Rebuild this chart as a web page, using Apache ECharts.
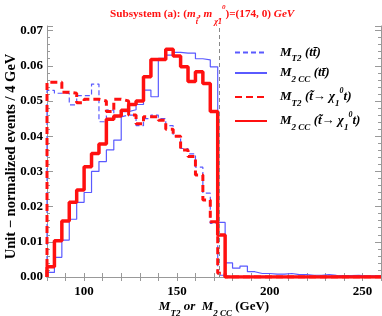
<!DOCTYPE html>
<html><head><meta charset="utf-8">
<script src="https://cdn.jsdelivr.net/npm/echarts@6/dist/echarts.min.js"></script>
<style>html,body{margin:0;padding:0;background:#fff}#c{width:382px;height:316px}</style>
</head><body><div id="c"></div>
<script>
// Histogram binning (GeV)
const binStart = 80, binWidth = 4;
const xTickLabels = [100, 150, 200, 250];
const yTickLabels = [0, 0.01, 0.02, 0.03, 0.04, 0.05, 0.06, 0.07];
const refLineX = 173;
// M_T2 (t tbar)
const mt2TT = [0.0530,0.0522,0.0522,0.0489,0.0515,0.0515,0.0548,0.0441,0.0474,0.0455,0.0460,0.0460,0.0430,0.0450,0.0460,0.0450,0.0430,0.0400,0.0365,0.0350,0.0312,0.0238,0.0152,0.0005,
0,0,0,0,0,0,0,0,0,0,0,0,0,0,0,0,0,0,0,0,0];
// M_2CC (t tbar)
const m2ccTT = [0.0013,0.0056,0.0105,0.0164,0.0212,0.0240,0.0300,0.0328,0.0361,0.0389,0.0470,0.0475,0.0490,0.0531,0.0512,0.0621,0.0630,0.0638,0.0636,0.0636,0.0620,0.0617,0.0597,0.0155,
0.0040,0.0025,0.0031,0.0015,0.0010,0.0010,0.0008,0.0008,0.0010,0.0007,0.0007,0.0005,0.0005,0.0007,0.0005,0.0004,0.0004,0.0005,0.0003,0.0003,0.0003];
// M_T2 (stop -> chi t)
const mt2Stop = [0.0553,0.0553,0.0525,0.0522,0.0495,0.0505,0.0505,0.0500,0.0470,0.0505,0.0500,0.0460,0.0435,0.0455,0.0455,0.0445,0.0420,0.0400,0.0361,0.0342,0.0290,0.0219,0.0157,0.0011,
0,0,0,0,0,0,0,0,0,0,0,0,0,0,0,0,0,0,0,0,0];
// M_2CC (stop -> chi t)
const m2ccStop = [0.0029,0.0103,0.0159,0.0212,0.0247,0.0313,0.0351,0.0378,0.0448,0.0457,0.0474,0.0490,0.0500,0.0569,0.0618,0.0618,0.0647,0.0628,0.0597,0.0555,0.0583,0.0550,0.0470,0.0119,
0,0,0,0,0,0,0,0,0,0,0,0,0,0,0,0,0,0,0,0,0];

function stepPoints(vals){
  const pts = [[binStart, 0]];
  vals.forEach((v, i) => pts.push([binStart + i * binWidth, v]));
  const end = binStart + vals.length * binWidth;
  pts.push([end, vals[vals.length - 1]]);
  return pts;
}

const FONT = '"Liberation Serif","Times New Roman",serif';
const RED = '#ff1010', BLUE = '#5a5aff';

const legendRich = {
  i: {fontFamily: FONT, fontStyle: 'italic', fontWeight: 'bold', fontSize: 13, color: '#000', lineHeight: 16},
  s: {fontFamily: FONT, fontStyle: 'italic', fontWeight: 'bold', fontSize: 9, color: '#000', lineHeight: 16, verticalAlign: 'bottom', padding: [0, 0, -3, 0]},
  n: {fontFamily: FONT, fontStyle: 'italic', fontWeight: 'bold', fontSize: 13, color: '#000', lineHeight: 16},
  u: {fontFamily: FONT, fontStyle: 'italic', fontWeight: 'bold', fontSize: 8, color: '#000', lineHeight: 16, verticalAlign: 'top', padding: [-2, 0, 0, 0]}
};
const legendText = {
  'MT2 tt': '{i|M}{s|T2} {n|(t}{n|t\u0304)}',
  'M2CC tt': '{i|M}{s|2 CC} {n|(t}{n|t\u0304)}',
  'MT2 stop': '{i|M}{s|T2} {n|(t\u0303\u2192 \u03c7}{s|1}{u|0}{n|t)}',
  'M2CC stop': '{i|M}{s|2 CC} {n|(t\u0303\u2192 \u03c7}{s|1}{u|0}{n|t)}'
};

const chart = echarts.init(document.getElementById('c'), null, {renderer: 'canvas'});

function mkSeries(name, vals, color, width, dash){
  return {
    name, type: 'line', step: 'end', symbol: 'none', data: stepPoints(vals),
    lineStyle: {color, width, type: dash ? dash : 'solid'},
    itemStyle: {color}, animation: false, z: 3
  };
}

const series = [
  mkSeries('MT2 tt', mt2TT, BLUE, 1.2, [5, 3]),
  mkSeries('M2CC tt', m2ccTT, BLUE, 1.2, null),
  mkSeries('MT2 stop', mt2Stop, RED, 3, [7, 4]),
  mkSeries('M2CC stop', m2ccStop, RED, 3.5, null)
];
series[0].markLine = {
  silent: true, symbol: 'none', label: {show: false}, animation: false,
  lineStyle: {color: '#888', type: [4, 3], width: 1},
  data: [{xAxis: refLineX}]
};

const axisCommon = {
  axisLine: {show: true, lineStyle: {color: '#999', width: 1}},
  splitLine: {show: false}
};

chart.setOption({
  animation: false,
  title: {
    text: '{b|Subsystem (a): (}{it|m}{sb|t\u0303}{b|, }{it|m}{sb| \u03c7\u0303}{sb|1}{su|0}{b|)=(174, 0) }{it|GeV}',
    left: 105, top: 0,
    textStyle: {
      rich: {
        b: {fontFamily: FONT, fontWeight: 'bold', fontSize: 11.2, color: RED, lineHeight: 18},
        it: {fontFamily: FONT, fontWeight: 'bold', fontStyle: 'italic', fontSize: 11.2, color: RED, lineHeight: 18},
        sb: {fontFamily: FONT, fontWeight: 'bold', fontStyle: 'italic', fontSize: 8, color: RED, lineHeight: 18, verticalAlign: 'bottom', padding: [0, 0, -3, 0]},
        su: {fontFamily: FONT, fontWeight: 'bold', fontStyle: 'italic', fontSize: 7, color: RED, lineHeight: 18, verticalAlign: 'top', padding: [-1, 0, 0, 0]}
      }
    }
  },
  grid: {left: 47, right: 1, top: 26, bottom: 39, containLabel: false, outerBoundsMode: 'none'},
  legend: {
    orient: 'vertical', left: 229, top: 41, itemWidth: 32, itemHeight: 12, itemGap: 3,
    data: ['MT2 tt', 'M2CC tt', 'MT2 stop', 'M2CC stop'],
    formatter: n => legendText[n],
    itemStyle: {opacity: 0},
    textStyle: {rich: legendRich, padding: [0, 0, 0, 8]},
    selectedMode: false
  },
  xAxis: [
    Object.assign({
      type: 'value', min: 80, max: 260, interval: 10,
      axisTick: {show: true, inside: true, length: 4, lineStyle: {color: '#999'}},
      minorTick: {show: false},
      axisLabel: {
        fontFamily: FONT, fontWeight: 'bold', fontSize: 13, color: '#000', margin: 8,
        formatter: v => xTickLabels.indexOf(v) >= 0 ? String(v) : ''
      },
      name: '{i|M}{s|T2}{i| or  M}{s|2 CC}{n| (GeV)}',
      nameLocation: 'middle', nameGap: 22, nameMoveOverlap: false,
      nameTextStyle: {rich: {
        i: {fontFamily: FONT, fontStyle: 'italic', fontWeight: 'bold', fontSize: 13, color: '#000', lineHeight: 16},
        s: {fontFamily: FONT, fontStyle: 'italic', fontWeight: 'bold', fontSize: 9, color: '#000', lineHeight: 16, verticalAlign: 'bottom', padding: [0, 0, -3, 0]},
        n: {fontFamily: FONT, fontWeight: 'bold', fontSize: 13, color: '#000', lineHeight: 16}
      }}
    }, axisCommon),
    Object.assign({
      type: 'value', min: 80, max: 260, interval: 10, position: 'top',
      axisTick: {show: true, inside: true, length: 4, lineStyle: {color: '#999'}},
      axisLabel: {show: false}
    }, axisCommon)
  ],
  yAxis: [
    Object.assign({
      type: 'value', min: 0, max: 0.0713, interval: 0.01,
      axisTick: {show: true, inside: true, length: 6, lineStyle: {color: '#999'}},
      minorTick: {show: true, splitNumber: 5, length: 3, lineStyle: {color: '#999'}},
      axisLabel: {
        fontFamily: FONT, fontWeight: 'bold', fontSize: 13, color: '#000', margin: 4,
        showMaxLabel: false,
        formatter: v => {
          const hit = yTickLabels.find(t => Math.abs(t - v) < 1e-9);
          return hit === undefined ? '' : hit.toFixed(2);
        }
      },
      name: 'Unit \u2212 normalized events / 4 GeV',
      nameLocation: 'middle', nameGap: 28, nameMoveOverlap: false,
      nameTextStyle: {fontFamily: FONT, fontWeight: 'bold', fontSize: 14.5, color: '#000', padding: [0, 10, 0, 0]}
    }, axisCommon),
    Object.assign({
      type: 'value', min: 0, max: 0.0713, interval: 0.01, position: 'right',
      axisTick: {show: true, inside: true, length: 6, lineStyle: {color: '#999'}},
      minorTick: {show: true, splitNumber: 5, length: 3, lineStyle: {color: '#999'}},
      axisLabel: {show: false}
    }, axisCommon)
  ],
  series
});
</script>
</body></html>
